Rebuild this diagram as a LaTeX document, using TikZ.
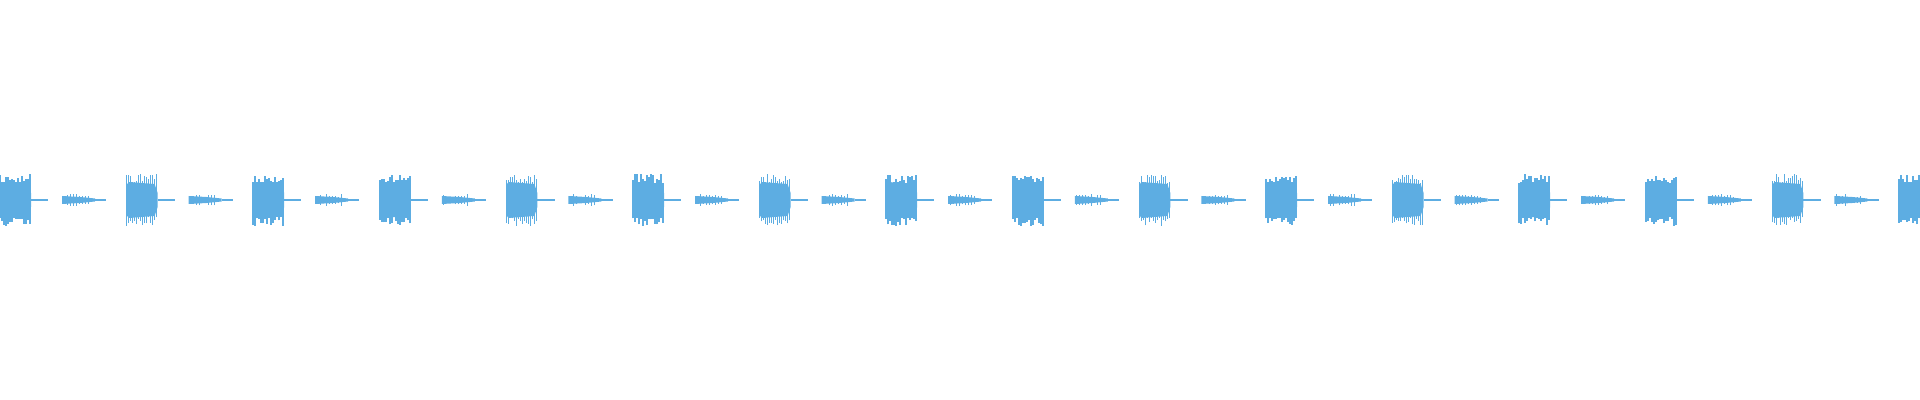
\documentclass[tikz,border=0pt]{standalone}
\definecolor{wavecol}{HTML}{5DADE2}
\tikzset{wave/.style={wavecol, line width=0.012cm}, wavefill/.style={fill=wavecol, draw=none}}
\begin{document}
\begin{tikzpicture}[x=0.01cm, y=0.01cm]
  \useasboundingbox (0,-200) rectangle (1920,200);
  \pgfmathsetseed{7}
  % loud bursts and quiet echoes
  \foreach \k in {0,...,15} {
    \pgfmathsetmacro{\xo}{\k*126.6}
    % loud burst
    \fill[wavefill] (\xo,-15) -- (\xo+2,-18) -- (\xo+28,-16) -- (\xo+31,-7) -- (\xo+31,7) -- (\xo+28,16) -- (\xo+2,18) -- (\xo,15) -- cycle;
    \foreach \i in {0,2,...,30} {
      \pgfmathsetmacro{\h}{17+9*rnd}
      \pgfmathsetmacro{\g}{17+9*rnd}
      \draw[wave, line width=0.016cm] (\xo+\i,-\g) -- (\xo+\i,\h);
    }
    \draw[wave] (\xo+31,0) -- (\xo+47,0);
    \draw[wave, dotted] (\xo+47,0) -- (\xo+52,0);
    % quiet echo
    \fill[wavefill] (\xo+62,-4) -- (\xo+80,-3) -- (\xo+95,-1.5) -- (\xo+95,1.5) -- (\xo+80,3) -- (\xo+62,4) -- cycle;
    \foreach \i in {64,67,...,90} {
      \pgfmathsetmacro{\h}{3+3*rnd}
      \draw[wave, line width=0.01cm] (\xo+\i,-\h) -- (\xo+\i,\h);
    }
    \draw[wave] (\xo+95,0) -- (\xo+105,0);
    \draw[wave, dotted] (\xo+105,0) -- (\xo+110,0);
  }
\end{tikzpicture}
\end{document}
